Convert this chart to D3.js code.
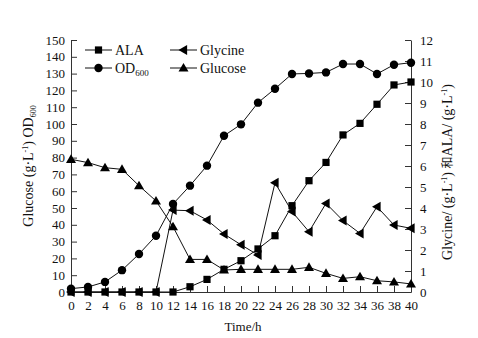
<!DOCTYPE html>
<html lang="zh">
<head>
<meta charset="UTF-8">
<title>ALA Glycine OD600 Glucose</title>
<script src="https://cdn.jsdelivr.net/npm/d3@7"></script>
<style>
    body { margin: 0; background: #fff; }
    .axis path, .axis line { stroke: #333; }
</style>
</head>
<body>
<div class="app"></div>
<script>
    // time points (h)
    var times = d3.range(0, 41, 2);
    var xTicks = [0,2,4,6,8,10,12,14,16,18,20,22,24,26,28,30,32,34,36,38,40];

    // left axis: g/L and OD600
    var od600   = [2, 3, 6, 13, 22.6, 33.5, 52.4, 63.3, 75.2, 93, 99.8, 112.7, 121, 129.8, 130.1, 130.7, 135.7, 135.7, 129.8, 135.3, 136.5];
    var glucose = [79, 77, 74, 73, 63.3, 54.2, 38.9, 19.4, 19.4, 13.1, 13.5, 13.5, 13.5, 13.5, 14.7, 11.1, 8.1, 9.1, 6.7, 6, 4.8];

    // right axis: g/L
    var ala     = [0, 0, 0, 0, 0, 0, 0, 0.25, 0.6, 1.08, 1.49, 2.05, 2.68, 4.11, 5.3, 6.17, 7.48, 8.03, 8.94, 9.86, 10.0];
    var glycine = [0, 0, 0, 0, 0, 0, 3.9, 3.87, 3.43, 2.76, 2.25, 1.76, 5.2, 3.83, 2.87, 4.22, 3.4, 2.79, 4.06, 3.19, 3.03];

    var leftTicks  = d3.range(0, 151, 10);
    var rightTicks = d3.range(0, 13, 1);

    var serif = '"Liberation Serif", "Times New Roman", serif';

    var width = 478, height = 338,
        margin = {top: 40, right: 67, bottom: 46, left: 71},
        w = width - margin.left - margin.right,
        h = height - margin.top - margin.bottom;

    var svg = d3.select('.app').append('svg')
        .attr('width', width).attr('height', height);
    var g = svg.append('g').attr('transform', 'translate(' + margin.left + ',' + margin.top + ')');

    var x = d3.scaleLinear().domain([0, 40]).range([0, w]);
    var yL = d3.scaleLinear().domain([0, 150]).range([h, 0]);
    var yR = d3.scaleLinear().domain([0, 12]).range([h, 0]);

    // axes (ticks pointing inward)
    g.append('g').attr('class', 'axis')
        .attr('transform', 'translate(0,' + h + ')')
        .call(d3.axisBottom(x).tickValues(xTicks).tickSize(-6).tickSizeOuter(0).tickPadding(9));
    g.append('g').attr('class', 'axis')
        .call(d3.axisLeft(yL).tickValues(leftTicks).tickSize(-6).tickSizeOuter(0).tickPadding(6));
    g.append('g').attr('class', 'axis')
        .attr('transform', 'translate(' + w + ',0)')
        .call(d3.axisRight(yR).tickValues(rightTicks).tickSize(-6).tickSizeOuter(0).tickPadding(9));
    g.selectAll('.axis text').style('font-size', '13px').attr('fill', '#111');

    // marker shapes
    function marker(sel, type) {
        if (type === 'circle') {
            sel.append('circle').attr('r', 4.2);
        } else if (type === 'square') {
            sel.append('rect').attr('x', -3.6).attr('y', -3.6).attr('width', 7.2).attr('height', 7.2);
        } else if (type === 'tri-up') {
            sel.append('path').attr('d', 'M0,-5L5,3.6L-5,3.6Z');
        } else if (type === 'tri-left') {
            sel.append('path').attr('d', 'M-5,0L3.6,-5L3.6,5Z');
        }
        sel.selectAll('*').attr('fill', '#000');
    }

    var series = [
        {name: 'Glucose', values: glucose, y: yL, type: 'tri-up'},
        {name: 'OD600',   values: od600,   y: yL, type: 'circle'},
        {name: 'Glycine', values: glycine, y: yR, type: 'tri-left'},
        {name: 'ALA',     values: ala,     y: yR, type: 'square'}
    ];

    series.forEach(function(s) {
        var line = d3.line()
            .x(function(d, i) { return x(times[i]); })
            .y(function(d) { return s.y(d); });
        g.append('path')
            .datum(s.values)
            .attr('fill', 'none')
            .attr('stroke', '#111')
            .attr('stroke-width', 1)
            .attr('d', line);
        g.selectAll('.m-' + s.name)
            .data(s.values)
            .enter().append('g')
            .attr('transform', function(d, i) { return 'translate(' + x(times[i]) + ',' + s.y(d) + ')'; })
            .each(function() { marker(d3.select(this), s.type); });
    });

    // legend
    var legend = [
        {label: 'ALA', sub: '', type: 'square', lx: 85, ly: 50},
        {label: 'Glycine', sub: '', type: 'tri-left', lx: 170, ly: 50},
        {label: 'OD', sub: '600', type: 'circle', lx: 85, ly: 68},
        {label: 'Glucose', sub: '', type: 'tri-up', lx: 170, ly: 68}
    ];
    legend.forEach(function(l) {
        var lg = svg.append('g').attr('transform', 'translate(' + l.lx + ',' + l.ly + ')');
        lg.append('line').attr('x1', 0).attr('x2', 27).attr('stroke', '#111');
        marker(lg.append('g').attr('transform', 'translate(13.5,0)'), l.type);
        var t = lg.append('text').attr('x', 30).attr('y', 4.5).style('font-size', '14px').text(l.label);
        if (l.sub) t.append('tspan').attr('dy', 3).style('font-size', '9px').text(l.sub);
    });

    // axis titles
    svg.append('text')
        .attr('x', margin.left + w / 2 + 2).attr('y', 331)
        .attr('text-anchor', 'middle').style('font-size', '13px')
        .text('Time/h');

    var lt = svg.append('text')
        .attr('transform', 'translate(33,166) rotate(-90)')
        .attr('text-anchor', 'middle').style('font-size', '14px');
    lt.append('tspan').text('Glucose (g·L');
    lt.append('tspan').attr('dy', -5).style('font-size', '8px').text('-1');
    lt.append('tspan').attr('dy', 5).text(') OD');
    lt.append('tspan').attr('dy', 3).style('font-size', '8px').text('600');

    var rt = svg.append('text')
        .attr('transform', 'translate(452,172) rotate(-90)')
        .attr('text-anchor', 'middle').style('font-size', '14px');
    rt.append('tspan').text('Glycine/ (g·L');
    rt.append('tspan').attr('dy', -5).style('font-size', '8px').text('-1');
    rt.append('tspan').attr('dy', 5).text(') ');
    rt.append('tspan').attr('class', 'cjk').style('font-size', '12px').text('和');
    rt.append('tspan').text('ALA/ (g·L');
    rt.append('tspan').attr('dy', -5).style('font-size', '8px').text('-1');
    rt.append('tspan').attr('dy', 5).text(')');

    // serif everywhere, CJK glyph from Noto
    svg.selectAll('text').style('font-family', serif).style('fill', '#111');
    svg.selectAll('tspan.cjk').style('font-family', '"Noto Sans CJK SC", sans-serif');
</script>
</body>
</html>
